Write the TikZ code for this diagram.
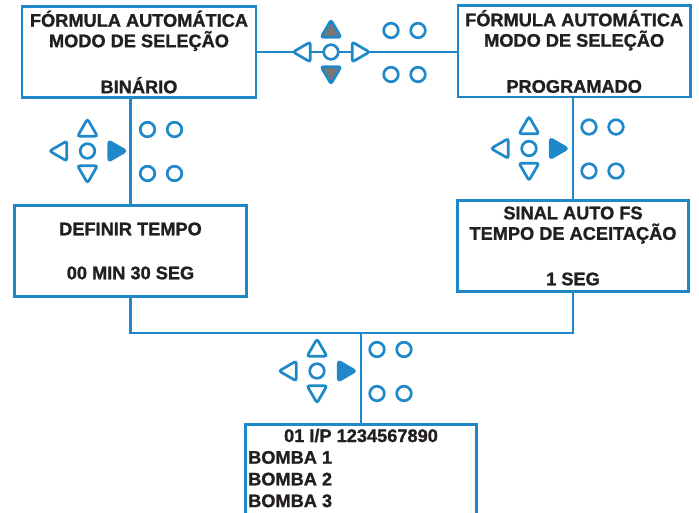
\documentclass[tikz,border=0pt]{standalone}
\usepackage{fontspec}
\setmainfont{Liberation Sans}[BoldFeatures={FakeBold=1.2}]
\usetikzlibrary{shapes.geometric,calc}
\definecolor{lineblue}{RGB}{30,136,200}
\definecolor{inkgray}{RGB}{35,31,32}
\definecolor{keygray}{RGB}{118,118,118}

\begin{document}
\begin{tikzpicture}[x=1pt,y=-1pt]
\tikzset{box/.style={rectangle,draw=lineblue,line width=2.6pt,fill=white,inner sep=0pt,align=center,text=inkgray,font=\bfseries\fontsize{18.2}{20.5}\selectfont},
         txt/.style={inner sep=0pt,text=inkgray,font=\bfseries\fontsize{18.2}{21.7}\selectfont},
         key/.style={circle,draw=lineblue,fill=white,line width=2.7pt,inner sep=0pt,minimum size=14.6pt},
         arr/.style={regular polygon,regular polygon sides=3,draw=lineblue,fill=white,line width=2.7pt,inner sep=0pt,minimum size=23pt,rounded corners=2.5pt},
         wire/.style={draw=lineblue,line width=2.6pt}}
\useasboundingbox (0,0) rectangle (699,513);
\clip (0,0) rectangle (699,513);
% display boxes
\node[box,minimum width=233.7pt,minimum height=91.4pt] (fb) at (139,52) {FÓRMULA AUTOMÁTICA\\MODO DE SELEÇÃO\\[25.5pt]BINÁRIO};
\node[box,minimum width=232.4pt,minimum height=91.4pt] (fp) at (574.2,51.5) {FÓRMULA AUTOMÁTICA\\MODO DE SELEÇÃO\\[25.5pt]PROGRAMADO};
\node[box,minimum width=232.4pt,minimum height=91.4pt] (dt) at (130.5,251) {DEFINIR TEMPO\\[23.5pt]00 MIN 30 SEG};
\node[box,minimum width=231.4pt,minimum height=91.4pt] (fs) at (573,246) {SINAL AUTO FS\\TEMPO DE ACEITAÇÃO\\[25pt]1 SEG};
\node[box,minimum width=231.4pt,minimum height=120pt,anchor=north] (io) at (361,423.3) {};
\node[txt,anchor=base] (iohd) at (361,442) {01 I/P 1234567890};
\foreach \i in {1,2,3}
  \node[txt,anchor=base west] (bm\i) at (248,{442+21.7*\i}) {BOMBA \i};
% connectors
\coordinate (jn) at (361,333);
\draw[wire] (fb.east) -- (fb.east -| fp.west);
\draw[wire] (dt.north) -- (dt.north |- fb.south);
\draw[wire] (fs.north) -- (fs.north |- fp.south);
\draw[wire] (dt.south) |- (jn) -| (fs.south);
\draw[wire] (jn) -- (io.north);
% keypads
\foreach \p/\cx/\cy/\ud/\rt in {t/331/52/keygray/white,l/87.5/151/white/lineblue,r/529/148.5/white/lineblue,m/317/371/white/lineblue}{
  \node[key] (\p c) at (\cx,\cy) {};
  \node[arr,fill=\ud] (\p u) at ($(\p c)+(0,-20.5)$) {};
  \node[arr,fill=\ud,shape border rotate=180] (\p d) at ($(\p c)+(0,20.5)$) {};
  \node[arr,shape border rotate=90] (\p w) at ($(\p c)+(-26.5,0)$) {};
  \node[arr,fill=\rt,shape border rotate=-90] (\p e) at ($(\p c)+(27,0)$) {};
  \foreach \dx/\dy [count=\n] in {60/-21.5,87/-21.5,60/22.5,87/22.5}
    \node[key] (\p b\n) at ($(\p c)+(\dx,\dy)$) {};
}
\end{tikzpicture}
\end{document}
